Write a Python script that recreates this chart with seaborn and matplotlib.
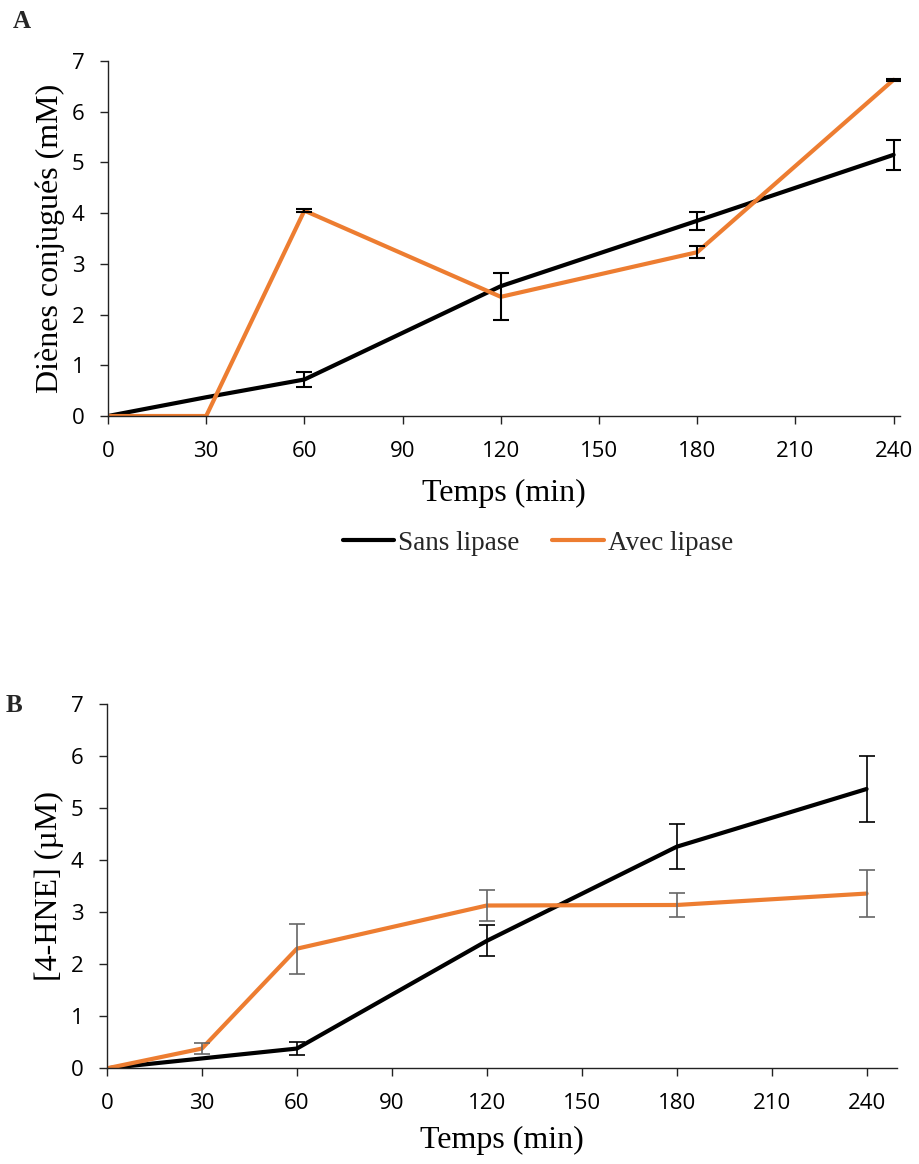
import numpy as np
import pandas as pd
import matplotlib
matplotlib.use("Agg")
import matplotlib.pyplot as plt
import seaborn as sns
from matplotlib.lines import Line2D

# ---- data ----
temps = [0, 30, 60, 120, 180, 240]
series_names = ["Sans lipase", "Avec lipase"]

# Panel A: diènes conjugués (mM)
a_sans = [0.0, 0.37, 0.72, 2.56, 3.85, 5.15]
a_sans_err = [0.0, 0.0, 0.14, 0.0, 0.18, 0.29]
a_avec = [0.0, 0.0, 4.05, 2.35, 3.23, 6.63]
a_avec_err = [0.0, 0.0, 0.03, 0.46, 0.12, 0.02]

# Panel B: 4-HNE (µM)
b_sans = [0.0, 0.19, 0.38, 2.45, 4.26, 5.37]
b_sans_err = [0.0, 0.0, 0.12, 0.30, 0.43, 0.64]
b_avec = [0.0, 0.38, 2.30, 3.13, 3.14, 3.36]
b_avec_err = [0.0, 0.10, 0.48, 0.30, 0.23, 0.46]

xticks = [0, 30, 60, 90, 120, 150, 180, 210, 240]
yticks = [0, 1, 2, 3, 4, 5, 6, 7]

BLACK = "#000000"
ORANGE = "#ED7D31"

sns.set_style("ticks")
plt.rcParams["font.family"] = ["Open Sans", "DejaVu Sans"]

fig = plt.figure(figsize=(9.19, 11.64), dpi=100)
axA = fig.add_axes([0.1175, 0.6426, 0.862, 0.305])
axB = fig.add_axes([0.1164, 0.0822, 0.8596, 0.3128])

serif = ["Liberation Serif", "DejaVu Serif"]


def draw(ax, sans, sans_err, avec, avec_err, xmax, ylabel, err_colors, err_lw, xlabelpad):
    df = pd.DataFrame({
        "Temps": temps * 2,
        "val": list(sans) + list(avec),
        "serie": [series_names[0]] * len(temps) + [series_names[1]] * len(temps),
    })
    sns.lineplot(data=df, x="Temps", y="val", hue="serie",
                 palette={series_names[0]: BLACK, series_names[1]: ORANGE},
                 linewidth=3.0, ax=ax, legend=False, errorbar=None, sort=False)
    for vals, errs, col in [(sans, sans_err, err_colors[0]), (avec, avec_err, err_colors[1])]:
        xs = [t for t, e in zip(temps, errs) if e > 0]
        ys = [v for v, e in zip(vals, errs) if e > 0]
        es = [e for e in errs if e > 0]
        ax.errorbar(xs, ys, yerr=es, fmt="none", ecolor=col, elinewidth=err_lw,
                    capsize=6, capthick=err_lw, zorder=5)
    ax.set_xlim(0, xmax)
    ax.set_ylim(0, 7)
    ax.set_xticks(xticks)
    ax.set_yticks(yticks)
    ax.tick_params(axis="both", direction="out", length=6, width=1.0,
                   labelsize=16, color="#222222", labelcolor="black")
    ax.tick_params(axis="x", pad=12)
    ax.tick_params(axis="y", pad=11)
    for s in ["left", "bottom"]:
        ax.spines[s].set_linewidth(1.0)
        ax.spines[s].set_color("#222222")
    sns.despine(ax=ax)
    ax.set_xlabel("Temps (min)", fontsize=23, family=serif, labelpad=xlabelpad, color="black")
    ax.set_ylabel(ylabel, fontsize=23, family=serif, labelpad=5, color="black")


draw(axA, a_sans, a_sans_err, a_avec, a_avec_err, 242,
     "Diènes conjugués (mM)", (BLACK, BLACK), 1.5, 12)
draw(axB, b_sans, b_sans_err, b_avec, b_avec_err, 249.6,
     "[4-HNE] (µM)", (BLACK, "#666666"), 1.2, 8)

handles = [Line2D([0], [0], color=BLACK, lw=3), Line2D([0], [0], color=ORANGE, lw=3)]
fig.legend(handles, series_names, loc="center", bbox_to_anchor=(538 / 919, 1 - 543 / 1164),
           ncol=2, frameon=False, prop={"family": serif, "size": 19.5},
           handlelength=1.9, handletextpad=0.15, columnspacing=1.2)

fig.text(22 / 919, 1 - 21 / 1164, "A", ha="center", va="center",
         fontsize=18, fontweight="bold", family=serif)
fig.text(14 / 919, 1 - 706 / 1164, "B", ha="center", va="center",
         fontsize=18, fontweight="bold", family=serif)

fig.savefig("out.png", dpi=100)
